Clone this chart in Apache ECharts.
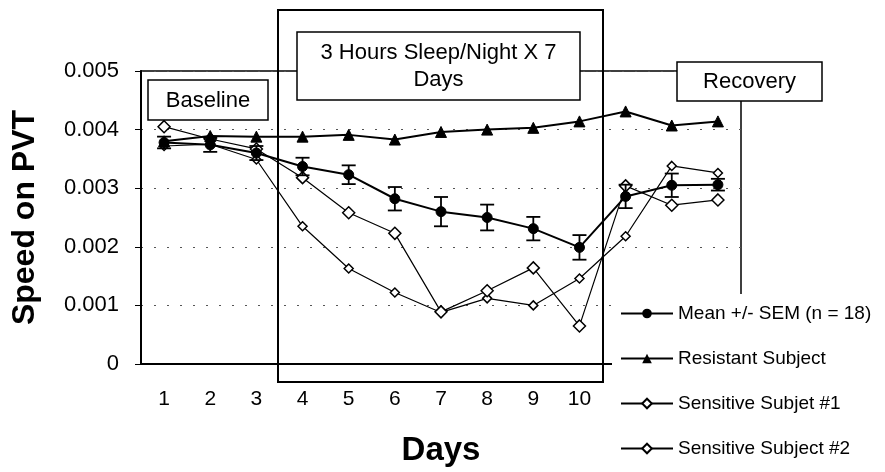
<!DOCTYPE html>
<html>
<head>
<meta charset="utf-8">
<script src="https://cdn.jsdelivr.net/npm/echarts@6/dist/echarts.min.js"></script>
<style>html,body{margin:0;padding:0;background:#fff}#c{width:885px;height:472px}</style>
</head>
<body>
<div id="c"></div>
<script>
const days = ['1','2','3','4','5','6','7','8','9','10','11','12','13'];
const dayTickLabels = ['1','2','3','4','5','6','7','8','9','10','','',''];
const meanSpeed = [0.00378, 0.00374, 0.00360, 0.00337, 0.00323, 0.00282, 0.00260, 0.00250, 0.00231, 0.00199, 0.00286, 0.00305, 0.00306];
const meanSEM = [0.00010, 0.00012, 0.00012, 0.00015, 0.00016, 0.00020, 0.00025, 0.00022, 0.00020, 0.00021, 0.00020, 0.00020, 0.00010];
const resistant = [0.00380, 0.00389, 0.00388, 0.00388, 0.00391, 0.00383, 0.00396, 0.00400, 0.00403, 0.00414, 0.00431, 0.00407, 0.00414];
const sensitive1 = [0.00372, 0.00375, 0.00349, 0.00235, 0.00163, 0.00122, 0.00088, 0.00112, 0.00100, 0.00146, 0.00218, 0.00338, 0.00326];
const sensitive2 = [0.00405, 0.00384, 0.00367, 0.00318, 0.00258, 0.00223, 0.00089, 0.00125, 0.00164, 0.00065, 0.00304, 0.00271, 0.00280];
const seriesNames = ['Mean +/- SEM (n = 18)', 'Resistant Subject', 'Sensitive Subjet #1', 'Sensitive Subject #2'];

const errData = meanSpeed.map((m, i) => [i, m - meanSEM[i], m + meanSEM[i]]);
const FONT = '"Liberation Sans", Arial, sans-serif';

const chart = echarts.init(document.getElementById('c'));
chart.setOption({
  animation: false,
  backgroundColor: '#fff',
  textStyle: { fontFamily: FONT, color: '#000' },
  grid: { left: 141, right: 144, top: 71, bottom: 107, show: true, borderColor: '#000', borderWidth: 1.5, backgroundColor: 'transparent' },
  xAxis: {
    type: 'category', data: days, boundaryGap: true,
    axisLine: { lineStyle: { color: '#000', width: 2 } },
    axisTick: { show: false },
    axisLabel: { formatter: (v, i) => dayTickLabels[i], fontSize: 21, color: '#000', margin: 25, fontFamily: FONT },
    name: 'Days', nameLocation: 'middle', nameGap: 70,
    nameTextStyle: { fontSize: 33, fontWeight: 'bold', color: '#000', fontFamily: FONT },
    splitLine: { show: false }
  },
  yAxis: {
    type: 'value', min: 0, max: 0.005, interval: 0.001,
    axisLine: { show: true, lineStyle: { color: '#000', width: 2 } },
    axisTick: { show: true, length: 6, lineStyle: { color: '#000' } },
    axisLabel: { formatter: v => v === 0 ? '0' : v.toFixed(3), fontSize: 22, color: '#000', margin: 22, fontFamily: FONT },
    splitLine: { show: true, lineStyle: { color: '#555', width: 1, type: [2, 11] } },
    name: 'Speed on PVT', nameLocation: 'middle', nameGap: 100,
    nameTextStyle: { fontSize: 32, fontWeight: 'bold', color: '#000', fontFamily: FONT }
  },
  legend: {
    orient: 'vertical', left: 612, top: 294,
    padding: [10, 12, 12, 8], backgroundColor: '#fff',
    itemWidth: 52, itemHeight: 12, itemGap: 26,
    data: seriesNames,
    textStyle: { fontSize: 19, color: '#000', fontFamily: FONT },
    z: 20
  },
  series: [
    {
      name: seriesNames[2], type: 'line', data: sensitive1,
      symbol: 'diamond', symbolSize: 9,
      lineStyle: { color: '#000', width: 1.2 },
      itemStyle: { color: '#fff', borderColor: '#000', borderWidth: 1.5 }, z: 3
    },
    {
      name: seriesNames[3], type: 'line', data: sensitive2,
      symbol: 'diamond', symbolSize: 12,
      lineStyle: { color: '#000', width: 1.2 },
      itemStyle: { color: '#fff', borderColor: '#000', borderWidth: 1.5 }, z: 3
    },
    {
      name: seriesNames[1], type: 'line', data: resistant,
      symbol: 'triangle', symbolSize: 11,
      lineStyle: { color: '#000', width: 2 },
      itemStyle: { color: '#000', borderColor: '#000' }, z: 4
    },
    {
      name: seriesNames[0], type: 'line', data: meanSpeed,
      symbol: 'circle', symbolSize: 10,
      lineStyle: { color: '#000', width: 2 },
      itemStyle: { color: '#000', borderColor: '#000' }, z: 5
    },
    {
      name: 'SEM', type: 'custom', data: errData, z: 5,
      renderItem: function (params, api) {
        const x = api.value(0);
        const lo = api.coord([x, api.value(1)]);
        const hi = api.coord([x, api.value(2)]);
        const w = 7;
        const st = { stroke: '#000', lineWidth: 1.8, fill: null };
        return {
          type: 'group',
          children: [
            { type: 'line', shape: { x1: lo[0], y1: lo[1], x2: hi[0], y2: hi[1] }, style: st },
            { type: 'line', shape: { x1: lo[0] - w, y1: lo[1], x2: lo[0] + w, y2: lo[1] }, style: st },
            { type: 'line', shape: { x1: hi[0] - w, y1: hi[1], x2: hi[0] + w, y2: hi[1] }, style: st }
          ]
        };
      }
    }
  ],
  graphic: [
    { type: 'rect', shape: { x: 278, y: 10, width: 325, height: 372 }, style: { fill: 'none', stroke: '#000', lineWidth: 2 }, z: 10 },
    { type: 'rect', shape: { x: 297, y: 32, width: 283, height: 68 }, style: { fill: '#fff', stroke: '#000', lineWidth: 1.5 }, z: 11 },
    { type: 'text', x: 438.5, y: 66, style: { text: '3 Hours Sleep/Night X 7\nDays', fontSize: 22, fontFamily: FONT, fill: '#000', align: 'center', verticalAlign: 'middle', lineHeight: 27 }, z: 12 },
    { type: 'rect', shape: { x: 148, y: 80, width: 120, height: 40 }, style: { fill: '#fff', stroke: '#000', lineWidth: 1.5 }, z: 11 },
    { type: 'text', x: 208, y: 101, style: { text: 'Baseline', fontSize: 22, fontFamily: FONT, fill: '#000', align: 'center', verticalAlign: 'middle' }, z: 12 },
    { type: 'rect', shape: { x: 677, y: 62, width: 145, height: 39 }, style: { fill: '#fff', stroke: '#000', lineWidth: 1.5 }, z: 11 },
    { type: 'text', x: 749.5, y: 82, style: { text: 'Recovery', fontSize: 22, fontFamily: FONT, fill: '#000', align: 'center', verticalAlign: 'middle' }, z: 12 }
  ]
});
</script>
</body>
</html>
